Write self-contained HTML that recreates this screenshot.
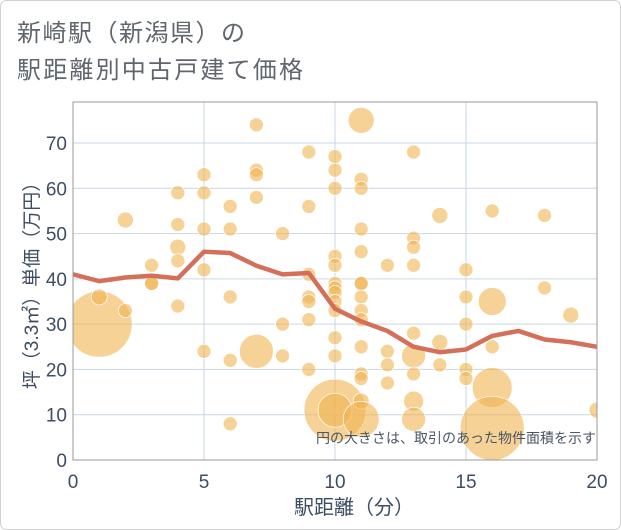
<!DOCTYPE html>
<html><head><meta charset="utf-8"><style>
body{margin:0;background:#fff;}
svg{display:block;font-family:"Liberation Sans","Noto Sans CJK JP",sans-serif;}
</style></head><body>
<svg width="621" height="530">
<rect x="0.5" y="0.5" width="620" height="529" rx="6" fill="#fff" stroke="#d0d0d0"/>
<text x="17" y="41" font-size="24" letter-spacing="1.5" fill="#60666e">新崎駅（新潟県）の</text>
<text x="17" y="78" font-size="24" letter-spacing="2.2" fill="#60666e">駅距離別中古戸建て価格</text>
<defs><clipPath id="pc"><rect x="73" y="102" width="524" height="358"/></clipPath></defs>
<g id="grid"></g>
<g id="bubbles" clip-path="url(#pc)"></g>
<g id="line"></g>
<rect x="73" y="102" width="524" height="358" fill="none" stroke="#999"/>
<g id="ticks"></g>
<text x="596" y="443" font-size="14" fill="#4a5666" text-anchor="end">円の大きさは、取引のあった物件面積を示す</text>
<text x="354" y="514" font-size="20" fill="#3d4d63" text-anchor="middle">駅距離（分）</text>
<text transform="translate(38,281) rotate(-90)" font-size="19" fill="#3d4d63" text-anchor="middle">坪（3.3㎡）単価（万円）</text>
</svg>
<script>
const xTicks=[0,5,10,15,20];
const yTicks=[0,10,20,30,40,50,60,70];
const lineX=[0,1,2,3,4,5,6,7,8,9,10,11,12,13,14,15,16,17,18,19,20];
const lineY=[41,39.5,40.3,40.7,40.1,46,45.7,42.9,41,41.3,33.4,30.6,28.5,25,23.8,24.4,27.4,28.5,26.6,26,25];
const bubbleX=[1,1,2,2,3,3,3,4,4,4,4,4,5,5,5,5,5,6,6,6,6,6,7,7,7,7,7,8,8,8,9,9,9,9,9,9,9,10,10,10,10,10,10,10,10,10,10,10,10,10,10,11,11,11,11,11,11,11,11,11,11,11,11,11,11,11,12,12,12,12,13,13,13,13,13,13,13,13,13,14,14,14,15,15,15,15,15,16,16,16,16,16,18,18,19,20];
const bubbleY=[30,36,53,33,43,39,39,59,52,47,44,34,63,59,51,42,24,56,51,36,22,8,74,64,63,58,24,50,30,23,68,56,41,36,35,31,20,67,64,60,45,43,39,38,37,35,33,27,23,11,11,75,62,60,51,46,39,39,36,33,31,25,19,18,13,9,43,24,21,17,68,49,47,43,28,23,19,13,9,54,26,21,42,36,30,20,18,55,35,25,16,7,54,38,32,11];
const bubbleR=[33,8,8,7,7,7,7,7,7,8,7,7,7,7,7,7,7,7,7,7,7,7,7,7,7,7,17,7,7,7,7,7,7,7,7,7,7,7,7,7,7,7,7,7,7,7,7,7,7,31,17,13,7,7,7,7,7,7,7,7,7,7,7,7,8,18,7,7,7,7,7,7,7,7,7,12,7,10,12,8,8,7,7,7,7,7,7,7,14,7,20,32,7,7,8,8];
const X0=73,X1=597,Y0=460,Y70=143;
const sx=v=>X0+(X1-X0)*v/20;
const sy=v=>Y0-(Y0-Y70)*v/70;
const NS="http://www.w3.org/2000/svg";
function mk(t,a,p){const e=document.createElementNS(NS,t);for(const k in a)e.setAttribute(k,a[k]);p.appendChild(e);return e;}
const grid=document.getElementById('grid'),ticks=document.getElementById('ticks');
xTicks.forEach(v=>{
 const g=mk('line',{x1:sx(v),x2:sx(v),y1:102,y2:460,stroke:'#c9d6e3','stroke-width':1},grid);
 
 
 const t=mk('text',{x:sx(v),y:488,'font-size':19,fill:'#3d4d63','text-anchor':'middle'},ticks);
 t.textContent=v;
 
 
});
yTicks.forEach(v=>{
 const g=mk('line',{x1:73,x2:597,y1:sy(v),y2:sy(v),stroke:'#c9d6e3','stroke-width':1},grid);
 
 
 const t=mk('text',{x:67,y:sy(v)+7,'font-size':19,fill:'#3d4d63','text-anchor':'end'},ticks);
 t.textContent=v;
 
 
});
const bg=document.getElementById('bubbles');
bubbleX.forEach((x,i)=>{
 const c=mk('circle',{cx:sx(x),cy:sy(bubbleY[i]),r:bubbleR[i],fill:'#f0b450','fill-opacity':0.6,stroke:'#fff','stroke-width':0.7},bg);
 
 
});
const lg=document.getElementById('line');
const p=mk('polyline',{points:lineX.map((x,i)=>sx(x)+','+sy(lineY[i])).join(' '),fill:'none',stroke:'#d4705a','stroke-width':4.5,'stroke-linejoin':'round'},lg);


</script>
</body></html>
